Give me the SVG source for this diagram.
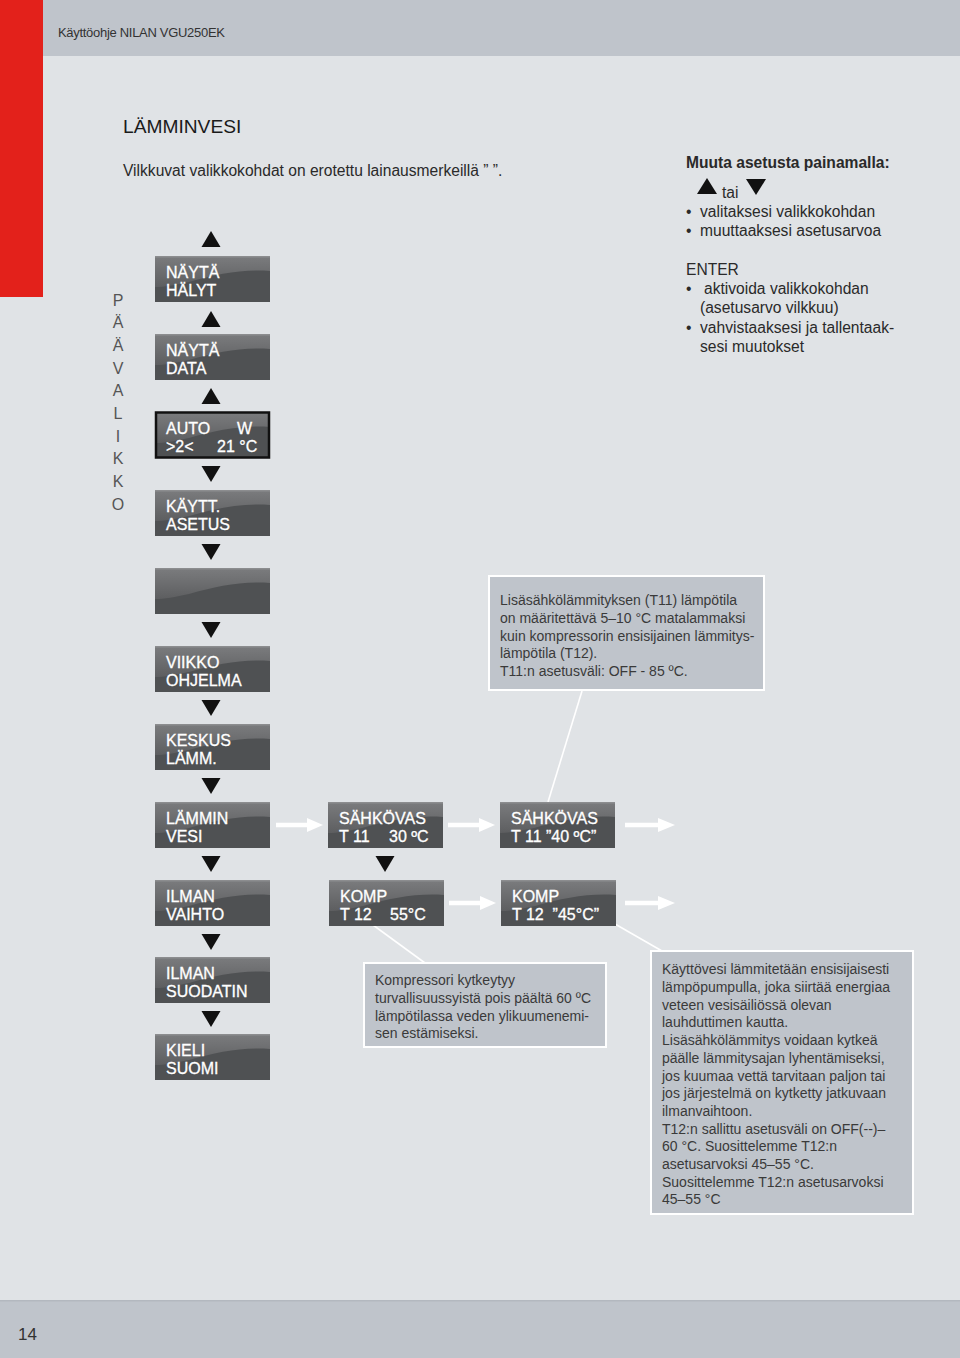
<svg xmlns="http://www.w3.org/2000/svg" xmlns:xlink="http://www.w3.org/1999/xlink" width="960" height="1358" viewBox="0 0 960 1358">
<style>
.bt{font-family:"Liberation Sans",Arial,sans-serif;font-size:16px;fill:#ffffff;stroke:#ffffff;stroke-width:0.3}
.it{font-family:"Liberation Sans",Arial,sans-serif;font-size:14px;fill:#3a3a3a}
.rt{font-family:"Liberation Sans",Arial,sans-serif;font-size:15.6px;fill:#2a2a2a}
.vl{font-family:"Liberation Sans",Arial,sans-serif;font-size:16px;fill:#555555;text-anchor:middle}
.info{fill:#bfc4cb;stroke:#ffffff;stroke-width:2}
.tri{fill:#111111}
.wl{stroke:#ffffff;stroke-width:4.5;fill:none}
.wh{fill:#ffffff}
.cl{stroke:#ffffff;stroke-width:1.6;fill:none}
</style>
<defs>
<linearGradient id="gTop" x1="0" y1="0" x2="0" y2="1">
<stop offset="0" stop-color="#7b7c7e"/>
<stop offset="1" stop-color="#5d5e60"/>
</linearGradient>
<g id="panel">
<rect x="0" y="0" width="115" height="46" fill="#4f5153"/>
<path d="M0,0 H115 V15 C88,13 62,18 34,26 C20,29 9,31 0,31 Z" fill="url(#gTop)"/>
<rect x="0" y="0" width="115" height="1.5" fill="#8c8d8f"/>
</g>
<path id="triDown" d="M-9.5,0 H9.5 L0,16 Z"/>
<path id="triUp" d="M-9.5,16 H9.5 L0,0 Z"/>
</defs>

<!-- page background -->
<rect x="0" y="0" width="960" height="1358" fill="#e0e3e6"/>
<rect x="0" y="0" width="960" height="56" fill="#bfc4cb"/>
<rect x="0" y="0" width="43" height="297" fill="#e3211b"/>
<rect x="0" y="1300" width="960" height="58" fill="#bfc4cb"/>
<rect x="0" y="1300" width="960" height="1.5" fill="#b3b8bf"/>
<text x="58" y="37" font-family="Liberation Sans, Arial, sans-serif" font-size="13" fill="#333" letter-spacing="-0.3">Käyttöohje NILAN VGU250EK</text>
<text x="18" y="1340" font-family="Liberation Sans, Arial, sans-serif" font-size="17" fill="#333">14</text>

<!-- headings -->
<text x="123" y="133" font-family="Liberation Sans, Arial, sans-serif" font-size="19.2" fill="#1a1a1a">LÄMMINVESI</text>
<text x="123" y="176" class="rt" fill="#333">Vilkkuvat valikkokohdat on erotettu lainausmerkeillä ” ”.</text>

<!-- instructions -->
<g id="instructions">
<text x="686" y="168" class="rt" font-weight="bold">Muuta asetusta painamalla:</text>
<polygon points="697,194 717,194 707,178" fill="#111"/>
<text x="722" y="198" class="rt">tai</text>
<polygon points="746,179 766,179 756,195" fill="#111"/>
<text x="686" y="217" class="rt">•</text>
<text x="700" y="217" class="rt">valitaksesi valikkokohdan</text>
<text x="686" y="236" class="rt">•</text>
<text x="700" y="236" class="rt">muuttaaksesi asetusarvoa</text>
<text x="686" y="275" class="rt">ENTER</text>
<text x="686" y="294" class="rt">•</text>
<text x="704" y="294" class="rt">aktivoida valikkokohdan</text>
<text x="700" y="313" class="rt">(asetusarvo vilkkuu)</text>
<text x="686" y="333" class="rt">•</text>
<text x="700" y="333" class="rt">vahvistaaksesi ja tallentaak-</text>
<text x="700" y="352" class="rt">sesi muutokset</text>
</g>

<!-- vertical label -->
<g id="paavalikko">
<text x="118" y="306" class="vl">P</text>
<text x="118" y="328" class="vl">Ä</text>
<text x="118" y="351" class="vl">Ä</text>
<text x="118" y="374" class="vl">V</text>
<text x="118" y="396" class="vl">A</text>
<text x="118" y="419" class="vl">L</text>
<text x="118" y="442" class="vl">I</text>
<text x="118" y="464" class="vl">K</text>
<text x="118" y="487" class="vl">K</text>
<text x="118" y="510" class="vl">O</text>
</g>

<!-- connectors -->
<g id="connectors">
<use xlink:href="#triUp" class="tri" x="211" y="231"/>
<use xlink:href="#triUp" class="tri" x="211" y="311"/>
<use xlink:href="#triUp" class="tri" x="211" y="388"/>
<use xlink:href="#triDown" class="tri" x="211" y="466"/>
<use xlink:href="#triDown" class="tri" x="211" y="544"/>
<use xlink:href="#triDown" class="tri" x="211" y="622"/>
<use xlink:href="#triDown" class="tri" x="211" y="700"/>
<use xlink:href="#triDown" class="tri" x="211" y="778"/>
<use xlink:href="#triDown" class="tri" x="211" y="856"/>
<use xlink:href="#triDown" class="tri" x="211" y="934"/>
<use xlink:href="#triDown" class="tri" x="211" y="1011"/>
<use xlink:href="#triDown" class="tri" x="385" y="856"/>

<line x1="276" y1="825" x2="309" y2="825" class="wl"/>
<polygon points="307,818 323,825 307,832" class="wh"/>
<line x1="448" y1="825" x2="481" y2="825" class="wl"/>
<polygon points="479,818 495,825 479,832" class="wh"/>
<line x1="625" y1="825" x2="660" y2="825" class="wl"/>
<polygon points="658,818 675,825 658,832" class="wh"/>
<line x1="449" y1="903" x2="482" y2="903" class="wl"/>
<polygon points="480,896 496,903 480,910" class="wh"/>
<line x1="625" y1="903" x2="660" y2="903" class="wl"/>
<polygon points="658,896 675,903 658,910" class="wh"/>

<line x1="548" y1="802" x2="582" y2="691" class="cl"/>
<line x1="373" y1="925" x2="425" y2="963" class="cl"/>
<line x1="615" y1="924" x2="662" y2="951" class="cl"/>
</g>

<!-- menu nodes -->
<g id="n-nayta-halyt">
<use xlink:href="#panel" x="155" y="256"/>
<text x="166" y="277.5" class="bt">NÄYTÄ</text>
<text x="166" y="295.5" class="bt">HÄLYT</text>
</g>
<g id="n-nayta-data">
<use xlink:href="#panel" x="155" y="334"/>
<text x="166" y="355.5" class="bt">NÄYTÄ</text>
<text x="166" y="373.5" class="bt">DATA</text>
</g>
<g id="n-auto">
<use xlink:href="#panel" x="155" y="412"/>
<rect x="156" y="412.5" width="113" height="45" fill="none" stroke="#111" stroke-width="2.5"/>
<text x="166" y="434" class="bt">AUTO</text>
<text x="237" y="434" class="bt">W</text>
<text x="166" y="452" class="bt">&gt;2&lt;</text>
<text x="217" y="452" class="bt">21 °C</text>
</g>
<g id="n-kaytt-asetus">
<use xlink:href="#panel" x="155" y="490"/>
<text x="166" y="511.5" class="bt">KÄYTT.</text>
<text x="166" y="529.5" class="bt">ASETUS</text>
</g>
<g id="n-blank">
<use xlink:href="#panel" x="155" y="568"/>
</g>
<g id="n-viikko">
<use xlink:href="#panel" x="155" y="646"/>
<text x="166" y="667.5" class="bt">VIIKKO</text>
<text x="166" y="685.5" class="bt">OHJELMA</text>
</g>
<g id="n-keskus">
<use xlink:href="#panel" x="155" y="724"/>
<text x="166" y="745.5" class="bt">KESKUS</text>
<text x="166" y="763.5" class="bt">LÄMM.</text>
</g>
<g id="n-lamminvesi">
<use xlink:href="#panel" x="155" y="802"/>
<text x="166" y="823.5" class="bt">LÄMMIN</text>
<text x="166" y="841.5" class="bt">VESI</text>
</g>
<g id="n-ilmanvaihto">
<use xlink:href="#panel" x="155" y="880"/>
<text x="166" y="901.5" class="bt">ILMAN</text>
<text x="166" y="919.5" class="bt">VAIHTO</text>
</g>
<g id="n-ilmansuodatin">
<use xlink:href="#panel" x="155" y="957"/>
<text x="166" y="978.5" class="bt">ILMAN</text>
<text x="166" y="996.5" class="bt">SUODATIN</text>
</g>
<g id="n-kieli">
<use xlink:href="#panel" x="155" y="1034"/>
<text x="166" y="1055.5" class="bt">KIELI</text>
<text x="166" y="1073.5" class="bt">SUOMI</text>
</g>

<g id="n-sahkovas-1">
<use xlink:href="#panel" x="328" y="802"/>
<text x="339" y="823.5" class="bt">SÄHKÖVAS</text>
<text x="339" y="841.5" class="bt">T 11</text>
<text x="389" y="841.5" class="bt">30 ºC</text>
</g>
<g id="n-komp-1">
<use xlink:href="#panel" x="329" y="880"/>
<text x="340" y="901.5" class="bt">KOMP</text>
<text x="340" y="919.5" class="bt">T 12</text>
<text x="390" y="919.5" class="bt">55°C</text>
</g>
<g id="n-sahkovas-2">
<use xlink:href="#panel" x="500" y="802"/>
<text x="511" y="823.5" class="bt">SÄHKÖVAS</text>
<text x="511" y="841.5" class="bt">T 11 ”40 ºC”</text>
</g>
<g id="n-komp-2">
<use xlink:href="#panel" x="501" y="880"/>
<text x="512" y="901.5" class="bt">KOMP</text>
<text x="512" y="919.5" class="bt" xml:space="preserve">T 12  ”45°C”</text>
</g>

<!-- info boxes -->
<g id="info-t11">
<rect x="489" y="576" width="275" height="114" class="info"/>
<text x="500" y="605" class="it">Lisäsähkölämmityksen (T11) lämpötila</text>
<text x="500" y="623" class="it">on määritettävä 5–10 °C matalammaksi</text>
<text x="500" y="641" class="it">kuin kompressorin ensisijainen lämmitys-</text>
<text x="500" y="658" class="it">lämpötila (T12).</text>
<text x="500" y="676" class="it">T11:n asetusväli: OFF - 85 ºC.</text>
</g>
<g id="info-komp">
<rect x="364" y="963" width="242" height="84" class="info"/>
<text x="375" y="985" class="it">Kompressori kytkeytyy</text>
<text x="375" y="1003" class="it">turvallisuussyistä pois päältä 60 ºC</text>
<text x="375" y="1021" class="it">lämpötilassa veden ylikuumenemi-</text>
<text x="375" y="1038" class="it">sen estämiseksi.</text>
</g>
<g id="info-kayttovesi">
<rect x="651" y="951" width="262" height="263" class="info"/>
<text x="662" y="974" class="it">Käyttövesi lämmitetään ensisijaisesti</text>
<text x="662" y="992" class="it">lämpöpumpulla, joka siirtää energiaa</text>
<text x="662" y="1010" class="it">veteen vesisäiliössä olevan</text>
<text x="662" y="1027" class="it">lauhduttimen kautta.</text>
<text x="662" y="1045" class="it">Lisäsähkölämmitys voidaan kytkeä</text>
<text x="662" y="1063" class="it">päälle lämmitysajan lyhentämiseksi,</text>
<text x="662" y="1081" class="it">jos kuumaa vettä tarvitaan paljon tai</text>
<text x="662" y="1098" class="it">jos järjestelmä on kytketty jatkuvaan</text>
<text x="662" y="1116" class="it">ilmanvaihtoon.</text>
<text x="662" y="1134" class="it">T12:n sallittu asetusväli on OFF(--)–</text>
<text x="662" y="1151" class="it">60 °C. Suosittelemme T12:n</text>
<text x="662" y="1169" class="it">asetusarvoksi 45–55 °C.</text>
<text x="662" y="1187" class="it">Suosittelemme T12:n asetusarvoksi</text>
<text x="662" y="1204" class="it">45–55 °C</text>
</g>
</svg>
